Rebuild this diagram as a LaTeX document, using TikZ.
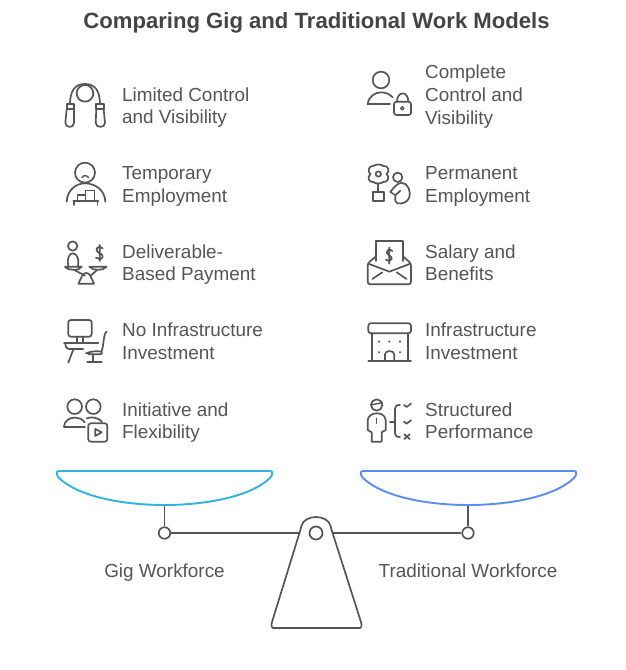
\documentclass[tikz,border=0pt]{standalone}
\usepackage{fontspec}
\setmainfont{Liberation Sans}
\usepackage{xcolor}
\usetikzlibrary{calc}
\definecolor{ink}{HTML}{555555}
\definecolor{titleink}{HTML}{444444}
\definecolor{gigblue}{HTML}{2FB4E0}
\definecolor{tradblue}{HTML}{5B8DEF}
\newcommand{\labstrut}{\rule[-4pt]{0pt}{18pt}}
\tikzset{
  x=1pt, y=-1pt,
  icon/.style={draw=ink, line width=1.7pt, line cap=round, line join=round},
  fine/.style={draw=ink, line width=1.4pt, line cap=round, line join=round},
  beam/.style={draw=ink, line width=1.7pt, line join=round},
  pan/.style={line width=1.9pt, line join=round, fill=white},
  labm/.style={text=ink, anchor=west, align=left, inner sep=0pt,
    font=\fontsize{18.9}{22.7}\selectfont,
    execute at begin node=\labstrut, execute at end node=\labstrut},
  labcap/.style={text=ink, inner sep=0pt, font=\fontsize{18.9}{22}\selectfont,
    execute at begin node=\labstrut},
  pivot/.style={circle, draw=ink, line width=1.7pt, fill=white, inner sep=0pt, minimum size=11.5pt}
}
\begin{document}
\begin{tikzpicture}
  \useasboundingbox (0,0) rectangle (625,670);
  \fill[white] (0,0) rectangle (625,670);

  \node[text=titleink, inner sep=0pt, font=\fontsize{22.1}{26}\selectfont\bfseries] (title) at (316.5,23) {Comparing Gig and Traditional Work Models};

  % left column
  \node[labm] (gigA) at (122,107.5) {Limited Control\\and Visibility};
  \node[labm] (gigB) at (122,186.5) {Temporary\\Employment};
  \node[labm] (gigC) at (122,264.5) {Deliverable-\\Based Payment};
  \node[labm] (gigD) at (122,343.5) {No Infrastructure\\Investment};
  \node[labm] (gigE) at (122,422.5) {Initiative and\\Flexibility};

  % right column
  \node[labm] (tradA) at (425,96.5) {Complete\\Control and\\Visibility};
  \node[labm] (tradB) at (425,186.5) {Permanent\\Employment};
  \node[labm] (tradC) at (425,264.5) {Salary and\\Benefits};
  \node[labm] (tradD) at (425,343.5) {Infrastructure\\Investment};
  \node[labm] (tradE) at (425,422.5) {Structured\\Performance};

  % rope
  \begin{scope}[shift={(50,60)},scale=0.3333]
    \draw[icon] (60,133) .. controls (60,92) and (75,72) .. (105,72) .. controls (135,72) and (150,92) .. (150,133);
    \draw[icon] (105,100) circle (25);
    \draw[icon] (50,133) -- (72,133) -- (72,148) -- (50,148) -- cycle;
    \draw[icon] (50,148) -- (46,188) .. controls (46,205) and (72,205) .. (72,188) -- (72,148);
    \draw[icon] (139,133) -- (161,133) -- (161,148) -- (139,148) -- cycle;
    \draw[icon] (139,148) -- (137,188) .. controls (137,205) and (166,205) .. (165,188) -- (161,148);
  \end{scope}

  % person with boxes
  \begin{scope}[shift={(50,60)},scale=0.3333]
    \draw[icon] (105,338) circle (30);
    \draw[fine] (96,353) .. controls (100,345) and (110,345) .. (116,353);
    \draw[icon] (50,425) .. controls (52,390) and (78,370) .. (105,370) .. controls (135,370) and (165,390) .. (166,425);
    \draw[icon] (70,424) -- (145,424);
    \draw[fine] (72,424) -- (72,435) (142,424) -- (142,435);
    \draw[fine] (82,424) -- (82,405) -- (107,405) (107,424) -- (107,392) -- (133,392) -- (133,424);
  \end{scope}

  % balance
  \begin{scope}[shift={(50,225)},scale=0.3333]
    \draw[icon] (68,63) circle (14);
    \draw[icon] (55,122) .. controls (50,100) and (58,85) .. (68,85) .. controls (80,85) and (88,100) .. (84,122);
    \draw[icon] (45,125) -- (95,125) .. controls (88,138) and (55,138) .. (45,125);
    \draw[icon] (118,125) -- (170,125) .. controls (160,138) and (128,138) .. (118,125);
    \draw[icon] (75,136) -- (105,152) (140,136) -- (122,152);
    \draw[icon] (85,176) -- (132,176) -- (120,150) .. controls (112,142) and (104,142) .. (98,150) -- cycle;
    \draw[icon] (158,70) .. controls (148,62) and (138,68) .. (140,76) .. controls (142,86) and (160,84) .. (158,96) .. controls (156,104) and (144,104) .. (138,98) (149,60) -- (149,108);
  \end{scope}

  % desk
  \begin{scope}[shift={(50,225)},scale=0.3333]
    \draw[icon, rounded corners=2.5pt] (55,285) rectangle (125,335);
    \draw[icon] (80,335) -- (80,352) (100,335) -- (100,352);
    \draw[icon] (42,355) -- (145,355);
    \draw[icon] (46,356) .. controls (47,368) and (50,372) .. (58,372) -- (100,372);
    \draw[icon] (70,373) -- (55,413);
    \draw[icon] (170,320) .. controls (160,325) and (162,360) .. (155,378);
    \draw[icon] (108,385) .. controls (125,378) and (140,378) .. (155,380) .. controls (157,385) and (155,388) .. (150,388) -- (115,388);
    \draw[icon] (130,388) -- (130,410) (112,410) -- (155,410);
  \end{scope}

  % two people and play button
  \begin{scope}[shift={(50,225)},scale=0.3333]
    \draw[icon] (74,545) circle (22) (130,545) circle (22);
    \draw[icon] (42,605) .. controls (42,588) and (60,578) .. (72,578) .. controls (85,578) and (98,582) .. (104,592);
    \draw[icon] (42,605) -- (105,605);
    \draw[icon] (110,580) .. controls (125,574) and (145,578) .. (156,590);
    \draw[icon, rounded corners=2.5pt] (115,595) rectangle (172,650);
    \draw[icon] (136,612) -- (155,622) -- (136,633) -- cycle;
  \end{scope}

  % person and lock
  \begin{scope}[shift={(355,60)},scale=0.3333]
    \draw[icon] (78,60) circle (25);
    \draw[icon] (38,133) .. controls (40,110) and (60,97) .. (78,97) .. controls (92,97) and (105,103) .. (113,112);
    \draw[icon] (38,133) -- (105,133);
    \draw[icon, rounded corners=2.5pt] (117,125) rectangle (168,165);
    \draw[icon] (126,125) .. controls (126,92) and (160,92) .. (160,125);
    \draw[fine] (142,145) circle (5);
  \end{scope}

  % flower and gardener
  \begin{scope}[shift={(355,60)},scale=0.3333]
    \draw[icon] (70,342) circle (8);
    \draw[icon] (55,318) .. controls (62,312) and (78,312) .. (85,318) .. controls (100,315) and (105,335) .. (95,342) .. controls (105,352) and (98,368) .. (85,366) .. controls (78,372) and (62,372) .. (55,366) .. controls (42,368) and (35,352) .. (46,342) .. controls (36,335) and (42,315) .. (55,318) -- cycle;
    \draw[icon] (70,372) -- (70,395);
    \draw[icon] (55,395) rectangle (88,422);
    \draw[icon] (128,352) circle (14);
    \draw[icon] (106,396) .. controls (115,385) and (125,370) .. (140,368) .. controls (160,370) and (168,395) .. (163,412) .. controls (158,428) and (140,432) .. (128,430) .. controls (118,425) and (120,415) .. (122,405) -- (136,392);
    \draw[fine] (106,396) -- (120,405);
  \end{scope}

  % envelope
  \begin{scope}[shift={(355,225)},scale=0.3333]
    \draw[icon] (62,108) -- (62,48) -- (145,48) -- (145,108);
    \draw[icon, rounded corners=2.5pt] (62,95) -- (38,115) -- (38,178) -- (168,178) -- (168,115) -- (145,95);
    \draw[icon] (40,116) -- (103,140) -- (166,116);
    \draw[icon] (52,162) -- (82,142) (155,162) -- (125,142);
    \draw[icon] (112,78) .. controls (104,70) and (94,76) .. (96,84) .. controls (98,92) and (112,92) .. (110,102) .. controls (108,110) and (98,110) .. (93,104) (103,68) -- (103,116);
  \end{scope}

  % store
  \begin{scope}[shift={(355,225)},scale=0.3333]
    \draw[icon, rounded corners=2.5pt] (40,295) rectangle (168,325);
    \draw[icon] (50,325) -- (50,408) (158,325) -- (158,408) (40,408) -- (168,408);
    \draw[icon] (90,408) -- (90,388) .. controls (90,375) and (118,375) .. (118,388) -- (118,408);
    \foreach \dotx/\doty in {72/350,103/350,135/350,72/382,135/382}
      \fill[ink] (\dotx,\doty) circle (3.5);
  \end{scope}

  % figure and checklist
  \begin{scope}[shift={(355,225)},scale=0.3333]
    \draw[icon] (65,540) circle (17);
    \draw[fine] (48,540) -- (82,533);
    \draw[icon] (50,650) -- (80,650) (50,650) -- (50,622) -- (38,615) -- (38,585) .. controls (40,570) and (55,565) .. (65,565) .. controls (78,565) and (90,570) .. (92,585) -- (92,615) -- (80,622) -- (80,650);
    \draw[fine] (65,580) -- (65,595);
    \draw[icon] (135,540) .. controls (124,540) and (120,544) .. (120,552) -- (120,625) .. controls (120,632) and (124,636) .. (135,636);
    \draw[icon] (105,590) -- (120,590);
    \draw[icon] (147,540) -- (155,546) -- (168,536);
    \draw[icon] (147,590) -- (155,596) -- (168,586);
    \draw[icon] (148,628) -- (164,642) (164,628) -- (148,642);
  \end{scope}

  % scale
  \coordinate (fulcrum) at (316,533);
  \node[pivot] (pivotL) at (164.5,533) {};
  \node[pivot] (pivotR) at (468,533) {};
  \coordinate (panL) at (164.5,504.5);
  \coordinate (panR) at (468,504.5);
  \draw[beam] (panL) -- (pivotL);
  \draw[beam] (panR) -- (pivotR);
  \draw[beam] (pivotL) -- (fulcrum);
  \draw[beam] (pivotR) -- (fulcrum);
  \draw[beam, fill=white, rounded corners=2pt] (301,528) .. controls (304,514) and (328,514) .. (331,528) -- (361,622) .. controls (362,626) and (361,628) .. (358,628) -- (275,628) .. controls (272,628) and (271,626) .. (272,622) -- cycle;
  \node[pivot, minimum size=13pt] (pivotM) at (fulcrum) {};
  \draw[pan, draw=gigblue] (59,471) -- (270,471) .. controls (274,471) and (272,476) .. (270,478) .. controls (250,497) and (205,505) .. (164.5,505) .. controls (124,505) and (79,497) .. (59,478) .. controls (57,476) and (55,471) .. (59,471) -- cycle;
  \draw[pan, draw=tradblue] (363,471) -- (574,471) .. controls (578,471) and (576,476) .. (574,478) .. controls (554,497) and (509,505) .. (468,505) .. controls (428,505) and (383,497) .. (363,478) .. controls (361,476) and (359,471) .. (363,471) -- cycle;
  \node[labcap] (gigcap) at (164.5,572) {Gig Workforce};
  \node[labcap] (tradcap) at (468,572) {Traditional Workforce};
\end{tikzpicture}
\end{document}
